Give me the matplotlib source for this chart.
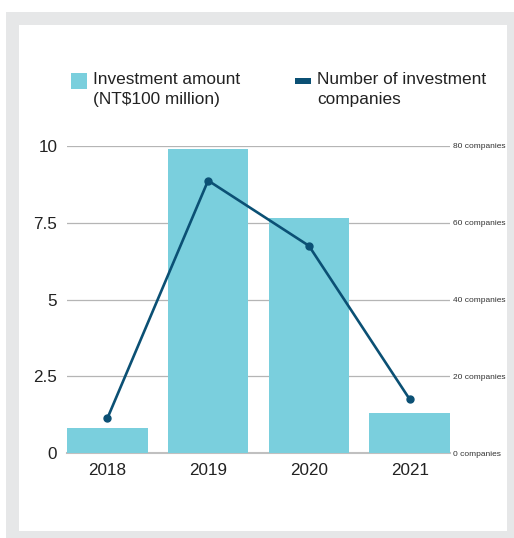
import numpy as np
from matplotlib import pyplot as plt
from matplotlib import font_manager
from matplotlib.patches import Rectangle

plt.rcParams['font.family'] = ['Liberation Sans', 'DejaVu Sans']

years = ['2018', '2019', '2020', '2021']
amount = [0.8, 9.9, 7.65, 1.3]          # NT$100 million
companies = [9, 71, 54, 14]             # number of investment companies
left_ticks = [0, 2.5, 5, 7.5, 10]
left_labels = ['0', '2.5', '5', '7.5', '10']
right_ticks = [0, 20, 40, 60, 80]

bar_color = '#7acfdd'
line_color = '#0b5074'
W, H = 514, 538

# narrow font for the right axis if there is one
names = {f.name for f in font_manager.fontManager.ttflist}
if 'Liberation Sans Narrow' in names:
    right_font, right_size = 'Liberation Sans Narrow', 6.5
else:
    right_font, right_size = 'Liberation Sans', 6

fig = plt.figure(figsize=(W / 100, H / 100), dpi=100, facecolor='white')
# gray frame and white card behind everything
fig.patches.append(Rectangle((6 / W, 0), (W - 6) / W, (H - 12) / H, transform=fig.transFigure,
                             facecolor='#e6e7e8', edgecolor='none', zorder=-20))
fig.patches.append(Rectangle((19 / W, 1 - 531 / H), (507 - 19) / W, (531 - 25) / H,
                             transform=fig.transFigure, facecolor='white', edgecolor='none', zorder=-10))

ax = fig.add_axes([67 / W, 1 - 453 / H, (450 - 67) / W, (453 - 146) / H])
ax.set_facecolor('none')
x = np.arange(len(years))
ax.bar(x, amount, width=0.8, color=bar_color, zorder=2)
ax.set_xlim(-0.4, 3.4)
ax.set_ylim(0, 10)
ax.set_yticks(left_ticks)
ax.set_yticklabels(left_labels)
ax.set_xticks(x)
ax.set_xticklabels(years)
ax.tick_params(axis='both', length=0, labelsize=12.3, colors='#222222')
ax.tick_params(axis='y', pad=7)
ax.tick_params(axis='x', pad=7)
ax.grid(axis='y', color='#b5b5b5', linewidth=0.9, zorder=1)
ax.set_axisbelow(True)
ax.axhline(0, color='#c0c0c0', linewidth=1.5, zorder=1, clip_on=False)
for s in ax.spines.values():
    s.set_visible(False)

ax2 = ax.twinx()
ax2.plot(x, companies, color=line_color, linewidth=1.9, marker='o', markersize=5, zorder=3)
ax2.set_ylim(0, 80)
ax2.set_yticks(right_ticks)
ax2.set_yticklabels([f'{t} companies' for t in right_ticks], family=right_font)
ax2.tick_params(axis='y', length=0, labelsize=right_size, pad=2.5, colors='#333333')
for s in ax2.spines.values():
    s.set_visible(False)

# legend
fig.patches.append(Rectangle((71 / W, 1 - 89 / H), 16 / W, 16 / H, transform=fig.transFigure,
                             facecolor=bar_color, edgecolor='none'))
fig.text(93 / W, 1 - 72 / H, 'Investment amount\n(NT$100 million)', fontsize=12.4,
         va='top', ha='left', color='#222222', linespacing=1.4)
fig.patches.append(Rectangle((295 / W, 1 - 84 / H), 16 / W, 6 / H, transform=fig.transFigure,
                             facecolor=line_color, edgecolor='none'))
fig.text(317 / W, 1 - 72 / H, 'Number of investment\ncompanies', fontsize=12.4,
         va='top', ha='left', color='#222222', linespacing=1.4)

plt.savefig('out.png', dpi=100, facecolor=fig.get_facecolor())
